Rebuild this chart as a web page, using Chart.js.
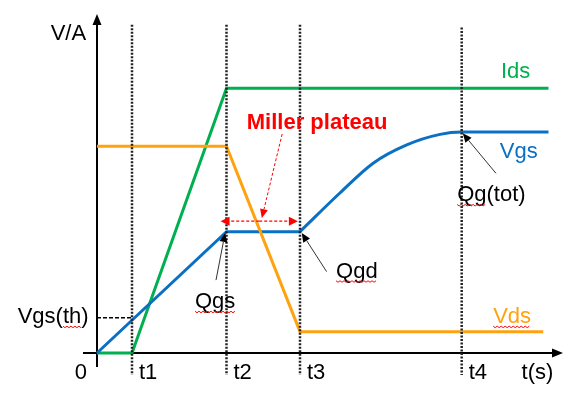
<!DOCTYPE html>
<html>
<head>
<meta charset="utf-8">
<script src="https://cdn.jsdelivr.net/npm/chart.js@4.4.1/dist/chart.umd.min.js"></script>
<style>
  html, body { margin: 0; padding: 0; background: #fff; }
  canvas { display: block; }
</style>
</head>
<body>
<canvas id="gateChart" width="584" height="394"></canvas>
<script>
// switching instants, arbitrary time units
const timeLabels = ["t1", "t2", "t3", "t4"];
const timeMarks = [1, 3.7, 5.8, 10.42];

// drain current
const idsX = [0, 1, 3.7, 12.9];
const idsY = [0, 0, 7.81, 7.81];

// drain-source voltage
const vdsX = [0, 3.7, 5.8, 12.75];
const vdsY = [6.1, 6.1, 0.63, 0.63];

// gate voltage: linear charge + Miller plateau
const vgsRampX = [0, 3.7, 5.8];
const vgsRampY = [0, 3.58, 3.58];

// gate voltage: rise after the plateau up to the final value
const vgsCurveX = [5.8, 6.94, 7.89, 8.85, 9.8, 10.42, 12.9];
const vgsCurveY = [3.58, 4.72, 5.6, 6.14, 6.45, 6.52, 6.52];

const vgsTh = 1.04;

const GREEN = "#00B050";
const ORANGE = "#FFA20F";
const BLUE = "#0A70C4";
const RED = "#FF0000";
const FONT = "22px 'Liberation Sans', Arial, sans-serif";
const BOLD = "bold 22px 'Liberation Sans', Arial, sans-serif";

function toPoints(xs, ys) {
  return xs.map((x, i) => ({ x: x, y: ys[i] }));
}

// text annotations, positions in data units
const notes = [
  { text: "V/A", x: -0.31, y: 9.23, align: "right", color: "#000" },
  { text: "0", x: -0.46, y: -0.78, align: "center", color: "#000" },
  { text: "Vgs(th)", x: -0.24, y: 0.88, align: "right", color: "#000", wave: [4, 6] },
  { text: "t(s)", x: 12.13, y: -0.78, align: "left", color: "#000" },
  { text: "Ids", x: 11.54, y: 8.1, align: "left", color: GREEN },
  { text: "Vgs", x: 11.51, y: 5.74, align: "left", color: BLUE },
  { text: "Qg(tot)", x: 10.29, y: 4.47, align: "left", color: "#000", wave: [0, 2] },
  { text: "Vds", x: 11.32, y: 0.88, align: "left", color: ORANGE, wave: [0, 3] },
  { text: "Qgd", x: 6.83, y: 2.22, align: "left", color: "#000", wave: [0, 3] },
  { text: "Qgs", x: 2.8, y: 1.32, align: "left", color: "#000", wave: [0, 3] },
  { text: "Miller plateau", x: 4.28, y: 6.6, align: "left", color: RED, bold: true }
];

// black pointer arrows [from, to]
const pointers = [
  [[3.4, 2.15], [3.66, 3.54]],
  [[6.56, 2.4], [5.85, 3.54]],
  [[11.4, 5.3], [10.45, 6.48]]
];

function arrowHead(ctx, x1, y1, x2, y2, len, half) {
  const a = Math.atan2(y2 - y1, x2 - x1);
  const bx = x2 - len * Math.cos(a);
  const by = y2 - len * Math.sin(a);
  ctx.beginPath();
  ctx.moveTo(x2, y2);
  ctx.lineTo(bx + half * Math.sin(a), by - half * Math.cos(a));
  ctx.lineTo(bx - half * Math.sin(a), by + half * Math.cos(a));
  ctx.closePath();
  ctx.fill();
  return [bx, by];
}

function arrow(ctx, x1, y1, x2, y2, len, half) {
  ctx.save();
  ctx.setLineDash([]);
  const base = arrowHead(ctx, x1, y1, x2, y2, len, half);
  ctx.restore();
  ctx.beginPath();
  ctx.moveTo(x1, y1);
  ctx.lineTo(base[0], base[1]);
  ctx.stroke();
}

function wavy(ctx, x1, x2, y) {
  ctx.save();
  ctx.strokeStyle = RED;
  ctx.lineWidth = 1;
  ctx.setLineDash([]);
  ctx.beginPath();
  ctx.moveTo(x1, y);
  let k = 0;
  for (let x = x1 + 2; x <= x2; x += 2) {
    ctx.lineTo(x, y + (k % 2 === 0 ? 1.5 : 0));
    k++;
  }
  ctx.stroke();
  ctx.restore();
}

const waveformAnnotations = {
  id: "waveformAnnotations",
  beforeDatasetsDraw(chart) {
    const { ctx, scales: { x, y } } = chart;
    const ox = x.getPixelForValue(0);
    const oy = y.getPixelForValue(0);
    const right = x.getPixelForValue(x.max);
    const top = y.getPixelForValue(y.max);

    ctx.save();
    ctx.strokeStyle = "#000";
    ctx.fillStyle = "#000";
    ctx.lineWidth = 2;
    // axes with arrow tips
    ctx.beginPath();
    ctx.moveTo(ox, oy + 14);
    ctx.lineTo(ox, top + 9);
    ctx.moveTo(ox - 14, oy);
    ctx.lineTo(right - 9, oy);
    ctx.stroke();
    arrowHead(ctx, ox, oy, ox, top, 11, 4.5);
    arrowHead(ctx, ox, oy, right + 1, oy, 11, 4.5);

    // threshold level
    ctx.lineWidth = 1.5;
    ctx.setLineDash([4, 2]);
    ctx.beginPath();
    ctx.moveTo(ox, y.getPixelForValue(vgsTh));
    ctx.lineTo(x.getPixelForValue(timeMarks[0]), y.getPixelForValue(vgsTh));
    ctx.stroke();
    ctx.restore();
  },
  afterDatasetsDraw(chart) {
    const { ctx, scales: { x, y } } = chart;
    const X = v => x.getPixelForValue(v);
    const Y = v => y.getPixelForValue(v);

    ctx.save();
    // dotted switching instants
    ctx.strokeStyle = "#222";
    ctx.lineWidth = 2.5;
    ctx.setLineDash([2, 1.5]);
    timeMarks.forEach((t, i) => {
      ctx.beginPath();
      ctx.moveTo(X(t), Y(i === 3 ? 9.6 : 9.68));
      ctx.lineTo(X(t), Y(-0.65));
      ctx.stroke();
    });

    // Miller plateau markers
    ctx.strokeStyle = RED;
    ctx.fillStyle = RED;
    ctx.lineWidth = 1.3;
    ctx.setLineDash([3, 2]);
    const my = Y(3.89);
    const mx1 = X(3.53), mx2 = X(5.74);
    const mid = (mx1 + mx2) / 2;
    arrow(ctx, mid, my, mx1, my, 9, 4.5);
    arrow(ctx, mid, my, mx2, my, 9, 4.5);
    ctx.lineWidth = 1;
    arrow(ctx, X(5.29), Y(6.46), X(4.71), Y(3.98), 9, 4);

    // black pointers to Qgs, Qgd, Qg(tot)
    ctx.strokeStyle = "#333";
    ctx.fillStyle = "#000";
    ctx.lineWidth = 1;
    ctx.setLineDash([]);
    pointers.forEach(p => {
      arrow(ctx, X(p[0][0]), Y(p[0][1]), X(p[1][0]), Y(p[1][1]), 9, 4);
    });

    // time labels
    ctx.font = FONT;
    ctx.textBaseline = "alphabetic";
    ctx.textAlign = "left";
    ctx.fillStyle = "#000";
    timeMarks.forEach((t, i) => {
      ctx.fillText(timeLabels[i], X(t) + 7, Y(-0.78));
    });

    // other texts
    notes.forEach(n => {
      ctx.font = n.bold ? BOLD : FONT;
      ctx.textAlign = n.align;
      ctx.fillStyle = n.color;
      const px = X(n.x), py = Y(n.y);
      ctx.fillText(n.text, px, py);
      if (n.wave) {
        const w = ctx.measureText(n.text).width;
        const start = n.align === "right" ? px - w : px;
        const a = ctx.measureText(n.text.slice(0, n.wave[0])).width;
        const b = ctx.measureText(n.text.slice(0, n.wave[1])).width;
        wavy(ctx, start + a, start + b, py + 3);
      }
    });
    ctx.restore();
  }
};

const ctx = document.getElementById("gateChart").getContext("2d");

new Chart(ctx, {
  type: "line",
  data: {
    datasets: [
      {
        label: "Vds",
        data: toPoints(vdsX, vdsY),
        borderColor: ORANGE,
        borderWidth: 3,
        pointRadius: 0,
        tension: 0,
        clip: false
      },
      {
        label: "Vgs",
        data: toPoints(vgsRampX, vgsRampY),
        borderColor: BLUE,
        borderWidth: 3,
        pointRadius: 0,
        tension: 0,
        clip: false
      },
      {
        label: "Vgs rise",
        data: toPoints(vgsCurveX, vgsCurveY),
        borderColor: BLUE,
        borderWidth: 3,
        pointRadius: 0,
        cubicInterpolationMode: "monotone",
        clip: false
      },
      {
        label: "Ids",
        data: toPoints(idsX, idsY),
        borderColor: GREEN,
        borderWidth: 3,
        pointRadius: 0,
        tension: 0,
        clip: false
      }
    ]
  },
  options: {
    responsive: false,
    animation: false,
    devicePixelRatio: 1,
    layout: {
      padding: { left: 97, right: 22, top: 14, bottom: 41 }
    },
    plugins: {
      legend: { display: false },
      tooltip: { enabled: false }
    },
    scales: {
      x: { type: "linear", min: 0, max: 13.286, display: false },
      y: { type: "linear", min: 0, max: 10, display: false }
    }
  },
  plugins: [waveformAnnotations]
});
</script>
</body>
</html>
